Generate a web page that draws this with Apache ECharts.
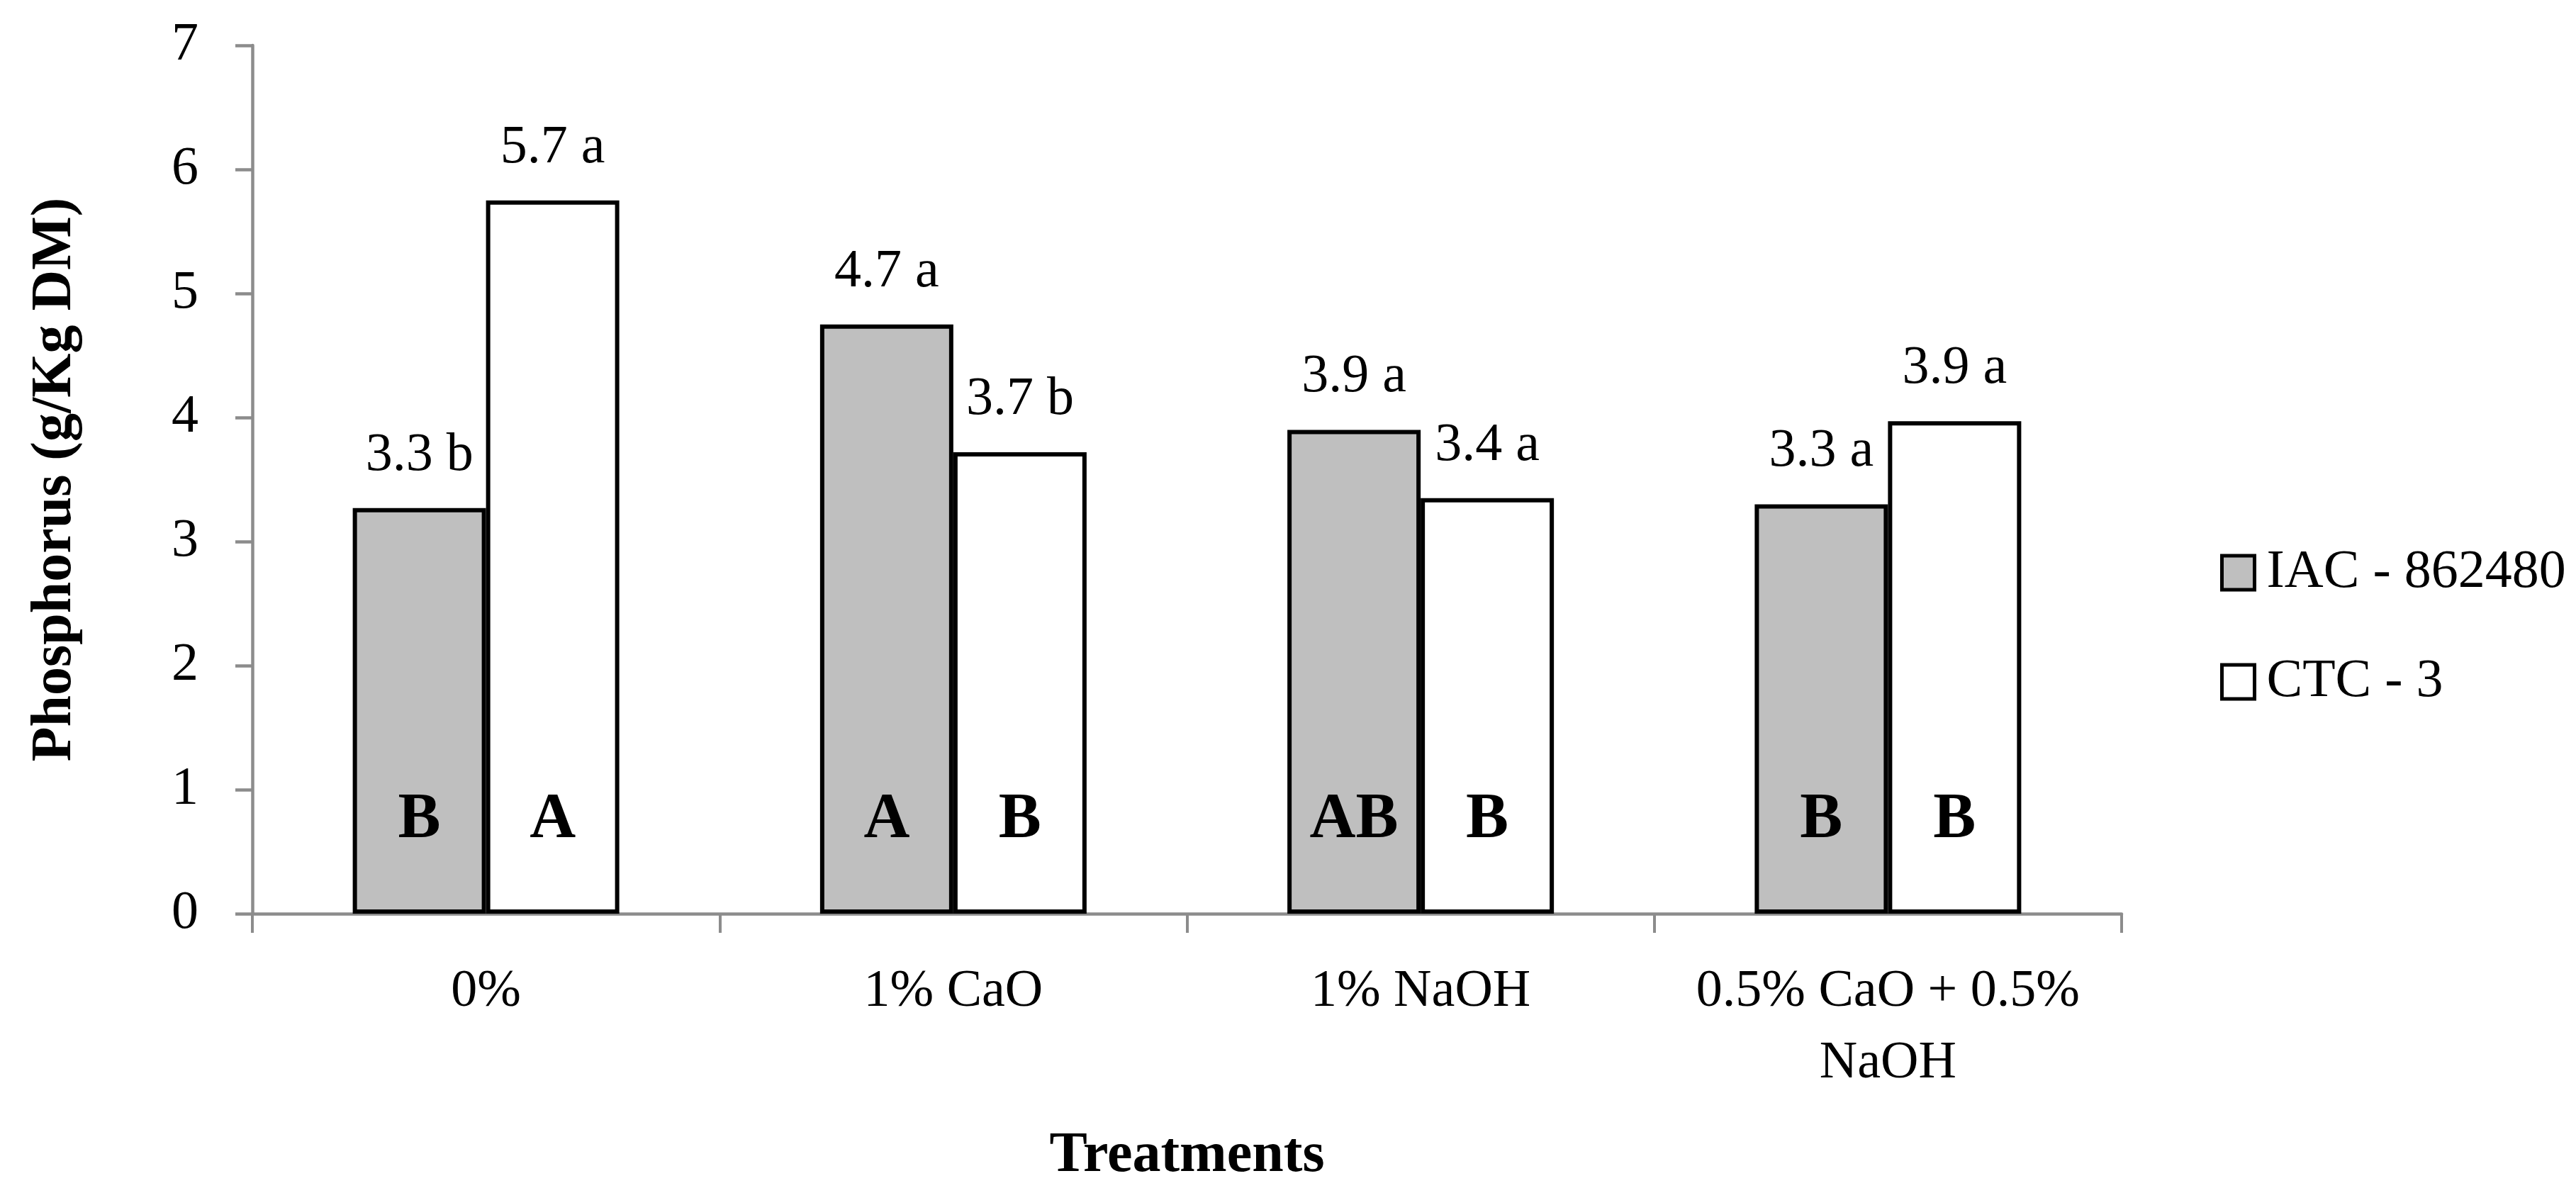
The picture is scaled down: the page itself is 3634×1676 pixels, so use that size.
<!DOCTYPE html>
<html>
<head>
<meta charset="utf-8">
<script src="https://cdn.jsdelivr.net/npm/echarts@6/dist/echarts.min.js"></script>
<style>
html,body{margin:0;padding:0;background:#fff;}
#chart{width:3634px;height:1676px;}
</style>
</head>
<body>
<div id="chart"></div>
<script>
const categories = ['0%', '1% CaO', '1% NaOH', '0.5% CaO + 0.5%\nNaOH'];
const seriesNames = ['IAC - 862480', 'CTC - 3'];
const iacValues = [3.27, 4.75, 3.90, 3.30];
const ctcValues = [5.75, 3.72, 3.35, 3.97];
const iacTopLabels = ['3.3 b', '4.7 a', '3.9 a', '3.3 a'];
const ctcTopLabels = ['5.7 a', '3.7 b', '3.4 a', '3.9 a'];
const iacLetters = ['B', 'A', 'AB', 'B'];
const ctcLetters = ['A', 'B', 'B', 'B'];
const yTicks = [0, 1, 2, 3, 4, 5, 6, 7];

const FONT = '"Liberation Serif", "Times New Roman", serif';
const chart = echarts.init(document.getElementById('chart'));

const barCommon = {
  type: 'bar',
  barWidth: 188,
  barGap: '0%',
  barCategoryGap: '42.6%'
};

function topLabel(arr) {
  return {
    show: true,
    position: 'top',
    distance: 36,
    fontFamily: FONT,
    fontSize: 76,
    color: '#000',
    formatter: p => arr[p.dataIndex]
  };
}
function letterLabel(arr) {
  return {
    show: true,
    position: 'insideBottom',
    distance: 86,
    fontFamily: FONT,
    fontWeight: 'bold',
    fontSize: 90,
    color: '#000',
    formatter: p => arr[p.dataIndex]
  };
}

chart.setOption({
  animation: false,
  backgroundColor: '#fff',
  grid: { left: 356, right: 641, top: 64, bottom: 379, containLabel: false },
  legend: {
    data: seriesNames,
    orient: 'vertical',
    left: 3127,
    top: 765,
    icon: 'rect',
    itemWidth: 46,
    itemHeight: 48,
    itemGap: 78,
    itemStyle: { borderColor: '#000', borderWidth: 5 },
    textStyle: { fontFamily: FONT, fontSize: 76, color: '#000', lineHeight: 74, padding: [0, 0, 0, 12] }
  },
  xAxis: [
    {
      type: 'category',
      data: categories,
      name: 'Treatments',
      nameLocation: 'middle',
      nameGap: 302,
      nameTextStyle: { fontFamily: FONT, fontWeight: 'bold', fontSize: 80, color: '#000' },
      axisLine: { lineStyle: { color: '#8c8c8c', width: 4.5 } },
      axisTick: { show: true, length: 27, lineStyle: { color: '#8c8c8c', width: 4 } },
      axisLabel: { fontFamily: FONT, fontSize: 74, color: '#000', margin: 60, lineHeight: 101, interval: 0 }
    },
    {
      type: 'category',
      data: categories,
      show: false
    }
  ],
  yAxis: {
    type: 'value',
    min: 0,
    max: 7,
    interval: 1,
    name: 'Phosphorus (g/Kg DM)',
    nameLocation: 'middle',
    nameGap: 238,
    nameTextStyle: { fontFamily: FONT, fontWeight: 'bold', fontSize: 80, color: '#000' },
    splitLine: { show: false },
    axisLine: { show: true, lineStyle: { color: '#8c8c8c', width: 4.5 } },
    axisTick: { show: true, length: 24, lineStyle: { color: '#8c8c8c', width: 4.5 } },
    axisLabel: { fontFamily: FONT, fontSize: 76, color: '#000', margin: 76,
      formatter: v => yTicks.includes(v) ? String(v) : '' }
  },
  series: [
    Object.assign({}, barCommon, {
      name: seriesNames[0],
      data: iacValues,
      itemStyle: { color: '#bfbfbf', borderColor: '#000', borderWidth: 6 },
      label: topLabel(iacTopLabels),
      z: 2
    }),
    Object.assign({}, barCommon, {
      name: seriesNames[1],
      data: ctcValues,
      itemStyle: { color: '#ffffff', borderColor: '#000', borderWidth: 6 },
      label: topLabel(ctcTopLabels),
      z: 2
    }),
    Object.assign({}, barCommon, {
      name: 'lettersIAC',
      xAxisIndex: 1,
      data: iacValues,
      silent: true,
      itemStyle: { color: 'rgba(0,0,0,0)', borderWidth: 0 },
      label: letterLabel(iacLetters),
      z: 5
    }),
    Object.assign({}, barCommon, {
      name: 'lettersCTC',
      xAxisIndex: 1,
      data: ctcValues,
      silent: true,
      itemStyle: { color: 'rgba(0,0,0,0)', borderWidth: 0 },
      label: letterLabel(ctcLetters),
      z: 5
    })
  ]
});
</script>
</body>
</html>
